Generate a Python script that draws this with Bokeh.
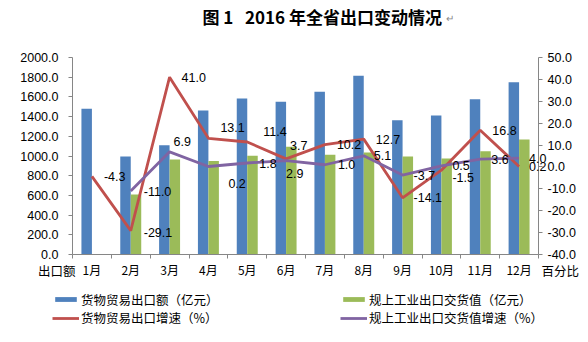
from bokeh.plotting import figure
from bokeh.models import (ColumnDataSource, Range1d, LinearAxis, FixedTicker,
                          Legend, LegendItem, Label, LabelSet, NumeralTickFormatter)
from bokeh.transform import dodge
from bokeh.core.properties import value
from bokeh.embed import file_html
from bokeh.resources import INLINE

# ---------------- data ----------------
months = ["1月", "2月", "3月", "4月", "5月", "6月", "7月", "8月", "9月", "10月", "11月", "12月"]
export_value = [1480, 995, 1110, 1462, 1584, 1550, 1652, 1814, 1364, 1411, 1577, 1750]
industrial_value = [float("nan"), 609, 964, 948, 1002, 1093, 1012, 1035, 995, 975, 1049, 1168]
export_growth = [-4.3, -29.1, 41.0, 13.1, 11.4, 3.7, 10.2, 12.7, -14.1, -1.5, 16.8, 0.2]
industrial_growth = [float("nan"), -11.0, 6.9, 0.2, 1.8, 2.9, 1.0, 5.1, -3.7, 0.5, 3.6, 4.0]
left_ticks = [0, 200, 400, 600, 800, 1000, 1200, 1400, 1600, 1800, 2000]
right_ticks = [-40, -30, -20, -10, 0, 10, 20, 30, 40, 50]
left_span = (0, 2000)
right_span = (-40, 50)

# label placement (pixels, style only)
export_label_dx = [12, 13, 12, 12, 16, 4, 12, 12, 11, 11, 12, 10]
export_label_dy = [0, -2, 0, 11, 10, 13, 0, 0, 0, -7, 0, 0]
industrial_label_dx = [0, 13, 4, 20, 12, 0, 13, 10, 11, 11, 11, 10]
industrial_label_dy = [0, 0, 10, -17, 0, -13, 0, 0, 0, 0, 0, 0]

BLUE = "#4F81BD"
GREEN = "#9BBB59"
RED = "#C0504D"
PURPLE = "#8064A2"
AXIS = "#868686"
NUM_FONT = "Liberation Sans"
CJK_FONT = "Noto Sans CJK SC"

# ---------------- layout (pixels) ----------------
W, H = 588, 342
PL, PR, PT, PB = 72, 538, 57, 254   # plot-area edges inside the canvas

n = len(months)
x0, x1 = 0.5, n + 0.5
px_x = (PR - PL) / (x1 - x0)
xr = Range1d(x0 - PL / px_x, x1 + (W - PR) / px_x)
px_l = (PB - PT) / (left_span[1] - left_span[0])
yr = Range1d(left_span[0] - (H - PB) / px_l, left_span[1] + PT / px_l)
px_r = (PB - PT) / (right_span[1] - right_span[0])
yr2 = Range1d(right_span[0] - (H - PB) / px_r, right_span[1] + PT / px_r)

xs = list(range(1, n + 1))
src = ColumnDataSource(dict(
    x=xs, ev=export_value, iv=industrial_value,
    eg=export_growth, ig=industrial_growth,
))

p = figure(width=W, height=H, output_backend="svg", toolbar_location=None,
           x_range=xr, y_range=yr, x_axis_location=None, y_axis_location=None,
           min_border=0, outline_line_color=None)
p.extra_y_ranges = {"pct": yr2}
p.xgrid.visible = False
p.ygrid.visible = False

bar_w = 0.27
r_blue = p.vbar(x=dodge("x", -0.135, range=p.x_range), top="ev", bottom=left_span[0],
                width=bar_w, source=src, fill_color=BLUE, line_color=None)
r_green = p.vbar(x=dodge("x", 0.135, range=p.x_range), top="iv", bottom=left_span[0],
                 width=bar_w, source=src, fill_color=GREEN, line_color=None)
r_red = p.line(x="x", y="eg", source=src, y_range_name="pct", line_color=RED, line_width=2.8)
r_purple = p.line(x="x", y="ig", source=src, y_range_name="pct", line_color=PURPLE, line_width=2.8)

# ---------------- axes ----------------
xa = LinearAxis(fixed_location=left_span[0], bounds=(x0, x1),
                ticker=FixedTicker(ticks=xs, minor_ticks=[x - 0.5 for x in xs] + [x1]))
xa.major_label_overrides = {x: m for x, m in zip(xs, months)}
xa.major_tick_out = 0
xa.major_tick_in = 0
xa.minor_tick_out = 4
xa.minor_tick_in = 0
xa.minor_tick_line_color = AXIS
xa.axis_line_color = AXIS
xa.major_label_standoff = 2
xa.major_label_text_font = CJK_FONT
xa.major_label_text_font_size = "12px"
xa.major_label_text_color = "black"
p.add_layout(xa, "below")

ya = LinearAxis(fixed_location=x0, bounds=left_span, ticker=FixedTicker(ticks=left_ticks),
                formatter=NumeralTickFormatter(format="0.0"))
ya.minor_tick_out = 0
ya.minor_tick_in = 0
ya.major_tick_out = 4
ya.major_tick_in = 0
ya.major_tick_line_color = AXIS
ya.axis_line_color = AXIS
ya.major_label_standoff = 10
ya.major_label_text_font = NUM_FONT
ya.major_label_text_font_size = "12.5px"
ya.major_label_text_color = "black"
p.add_layout(ya, "left")

ra = LinearAxis(y_range_name="pct", fixed_location=x1, bounds=right_span,
                ticker=FixedTicker(ticks=right_ticks),
                formatter=NumeralTickFormatter(format="0.0"))
ra.minor_tick_out = 0
ra.minor_tick_in = 0
ra.major_tick_out = 4
ra.major_tick_in = 0
ra.major_tick_line_color = AXIS
ra.axis_line_color = AXIS
ra.major_label_standoff = 5
ra.major_label_text_font = NUM_FONT
ra.major_label_text_font_size = "12.5px"
ra.major_label_text_color = "black"
p.add_layout(ra, "right")

# ---------------- data labels ----------------
e_lab = ColumnDataSource(dict(
    x=xs, y=export_growth, t=[f"{v:.1f}" for v in export_growth],
    dx=export_label_dx, dy=export_label_dy))
idx = [i for i, v in enumerate(industrial_growth) if v == v]
i_lab = ColumnDataSource(dict(
    x=[xs[i] for i in idx], y=[industrial_growth[i] for i in idx],
    t=[f"{industrial_growth[i]:.1f}" for i in idx],
    dx=[industrial_label_dx[i] for i in idx], dy=[industrial_label_dy[i] for i in idx]))
for s in (i_lab, e_lab):
    p.add_layout(LabelSet(x="x", y="y", text="t", source=s, y_range_name="pct",
                          x_offset="dx", y_offset="dy", text_align="left",
                          text_baseline="middle", text_font=value(NUM_FONT),
                          text_font_size="12.5px", text_color="black"))

# ---------------- title and captions ----------------
p.add_layout(Label(x=202, y=H - 16, x_units="screen", y_units="screen",
                   text="图\u00a01\u00a0\u00a0\u00a02016\u00a0年全省出口变动情况",
                   text_align="left", text_baseline="middle", text_font=CJK_FONT,
                   text_font_size="17px", text_font_style="bold", text_color="black"))
p.add_layout(Label(x=445, y=H - 17, x_units="screen", y_units="screen", text="↵",
                   text_align="left", text_baseline="middle", text_font=CJK_FONT,
                   text_font_size="10px", text_color="#888888"))
p.add_layout(Label(x=75, y=H - 270, x_units="screen", y_units="screen", text="出口额",
                   text_align="right", text_baseline="middle", text_font=CJK_FONT,
                   text_font_size="12.5px", text_color="black"))
p.add_layout(Label(x=541, y=H - 270, x_units="screen", y_units="screen", text="百分比",
                   text_align="left", text_baseline="middle", text_font=CJK_FONT,
                   text_font_size="12.5px", text_color="black"))

# ---------------- legend (one cell each) ----------------
def add_legend(label, renderer, x, y):
    lg = Legend(items=[LegendItem(label=label, renderers=[renderer])],
                location=(x, y), orientation="vertical", padding=0, margin=0,
                spacing=0, glyph_width=27, glyph_height=6, label_standoff=2,
                label_text_font=CJK_FONT, label_text_font_size="12.5px",
                label_text_color="black", background_fill_alpha=0,
                border_line_alpha=0, label_height=14)
    p.add_layout(lg, "center")

add_legend("货物贸易出口额（亿元）", r_blue, 52, H - 308.5)
add_legend("规上工业出口交货值（亿元）", r_green, 340, H - 308.5)
add_legend("货物贸易出口增速（%）", r_red, 52, H - 327)
add_legend("规上工业出口交货值增速（%）", r_purple, 340, H - 327)

open("out.html", "w").write(file_html(p, INLINE))
